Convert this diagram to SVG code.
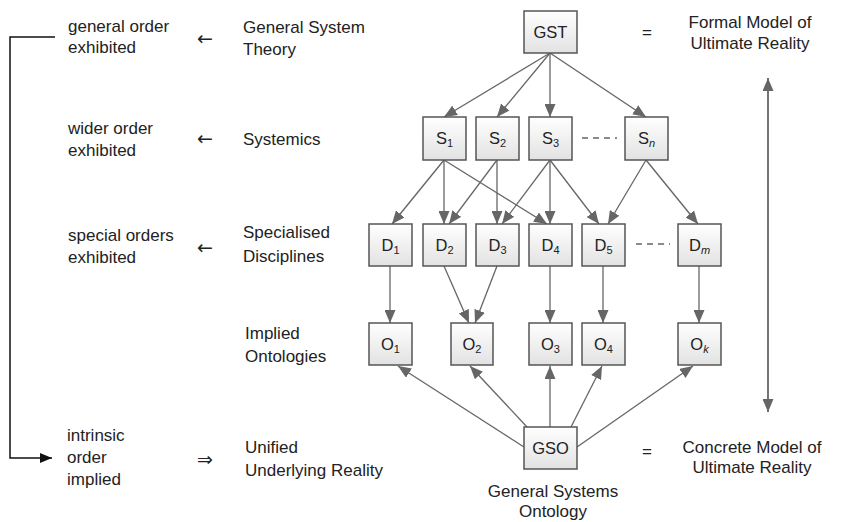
<svg xmlns="http://www.w3.org/2000/svg" width="843" height="522" viewBox="0 0 843 522">
<defs>
<linearGradient id="boxg" x1="0" y1="0" x2="0" y2="1">
<stop offset="0" stop-color="#ffffff"/>
<stop offset="1" stop-color="#e2e2e2"/>
</linearGradient>
<marker id="ah" markerUnits="userSpaceOnUse" markerWidth="13" markerHeight="11" refX="13" refY="5.5" orient="auto">
<path d="M0,0 L13,5.5 L0,11 z" fill="#666"/>
</marker>
<marker id="ahb" markerUnits="userSpaceOnUse" markerWidth="12" markerHeight="10" refX="12" refY="5" orient="auto">
<path d="M0,0 L12,5 L0,10 z" fill="#111"/>
</marker>
<marker id="ahs" markerUnits="userSpaceOnUse" markerWidth="13" markerHeight="11" refX="0" refY="5.5" orient="auto">
<path d="M13,0 L0,5.5 L13,11 z" fill="#666"/>
</marker>
</defs>
<style>
.box{fill:url(#boxg);stroke:#555;stroke-width:1.5}
.lbl{font-family:"Liberation Sans",Arial,sans-serif;font-size:16.5px;fill:#222;text-anchor:middle}
.sub{font-size:11px}
.it{font-style:italic}
.txt{font-family:"Liberation Sans",Arial,sans-serif;font-size:17px;fill:#222}
.sym{font-family:"DejaVu Sans",sans-serif;font-size:19px;fill:#222}
.ctr{text-anchor:middle}
.e{stroke:#666;stroke-width:1.3;fill:none;marker-end:url(#ah)}
.dash{stroke:#666;stroke-width:1.3;stroke-dasharray:6,5;fill:none}
</style>

<g id="connectors">
<line class="e" x1="550" y1="53" x2="444" y2="117"/>
<line class="e" x1="550" y1="53" x2="497" y2="117"/>
<line class="e" x1="550" y1="53" x2="550" y2="117"/>
<line class="e" x1="550" y1="53" x2="646" y2="117"/>
<line class="e" x1="444" y1="160" x2="392" y2="224"/>
<line class="e" x1="444" y1="160" x2="444" y2="224"/>
<line class="e" x1="444" y1="160" x2="547" y2="224"/>
<line class="e" x1="497" y1="160" x2="449" y2="224"/>
<line class="e" x1="497" y1="160" x2="497" y2="224"/>
<line class="e" x1="550" y1="160" x2="502" y2="224"/>
<line class="e" x1="550" y1="160" x2="550" y2="224"/>
<line class="e" x1="550" y1="160" x2="599" y2="224"/>
<line class="e" x1="646" y1="160" x2="608" y2="224"/>
<line class="e" x1="646" y1="160" x2="698" y2="224"/>
<line class="e" x1="390" y1="266" x2="390" y2="323"/>
<line class="e" x1="444" y1="266" x2="469" y2="323"/>
<line class="e" x1="497" y1="266" x2="475" y2="323"/>
<line class="e" x1="550" y1="266" x2="550" y2="323"/>
<line class="e" x1="603" y1="266" x2="603" y2="323"/>
<line class="e" x1="699" y1="266" x2="699" y2="323"/>
<line class="e" x1="524" y1="447" x2="398" y2="366"/>
<line class="e" x1="527" y1="427" x2="470" y2="366"/>
<line class="e" x1="550" y1="427" x2="550" y2="366"/>
<line class="e" x1="571" y1="427" x2="602" y2="366"/>
<line class="e" x1="577" y1="447" x2="693" y2="366"/>
<line class="dash" x1="582" y1="138" x2="617" y2="138"/>
<line class="dash" x1="636" y1="244" x2="670" y2="244"/>
<line stroke="#666" stroke-width="1.8" x1="768" y1="78" x2="768" y2="412" marker-start="url(#ahs)" marker-end="url(#ah)"/>
<path d="M55,37 H10 V458 H52" stroke="#111" stroke-width="1.5" fill="none" marker-end="url(#ahb)"/>
</g>

<g id="GST"><rect class="box" x="524" y="11" width="53" height="42"/><text class="lbl" x="550.5" y="38">GST</text></g>
<g id="S1"><rect class="box" x="423" y="117" width="43" height="43"/><text class="lbl" x="444.5" y="144">S<tspan class="sub" dy="3">1</tspan></text></g>
<g id="S2"><rect class="box" x="476" y="117" width="43" height="43"/><text class="lbl" x="497.5" y="144">S<tspan class="sub" dy="3">2</tspan></text></g>
<g id="S3"><rect class="box" x="529" y="117" width="43" height="43"/><text class="lbl" x="550.5" y="144">S<tspan class="sub" dy="3">3</tspan></text></g>
<g id="Sn"><rect class="box" x="625" y="117" width="43" height="43"/><text class="lbl" x="646.5" y="144">S<tspan class="sub it" dy="3">n</tspan></text></g>

<g id="D1"><rect class="box" x="369" y="224" width="43" height="42"/><text class="lbl" x="390.5" y="251">D<tspan class="sub" dy="3">1</tspan></text></g>
<g id="D2"><rect class="box" x="423" y="224" width="43" height="42"/><text class="lbl" x="444.5" y="251">D<tspan class="sub" dy="3">2</tspan></text></g>
<g id="D3"><rect class="box" x="476" y="224" width="43" height="42"/><text class="lbl" x="497.5" y="251">D<tspan class="sub" dy="3">3</tspan></text></g>
<g id="D4"><rect class="box" x="529" y="224" width="43" height="42"/><text class="lbl" x="550.5" y="251">D<tspan class="sub" dy="3">4</tspan></text></g>
<g id="D5"><rect class="box" x="582" y="224" width="43" height="42"/><text class="lbl" x="603.5" y="251">D<tspan class="sub" dy="3">5</tspan></text></g>
<g id="Dm"><rect class="box" x="678" y="224" width="43" height="42"/><text class="lbl" x="699.5" y="251">D<tspan class="sub it" dy="3">m</tspan></text></g>

<g id="O1"><rect class="box" x="369" y="323" width="43" height="42"/><text class="lbl" x="390.5" y="350">O<tspan class="sub" dy="3">1</tspan></text></g>
<g id="O2"><rect class="box" x="451" y="323" width="42" height="42"/><text class="lbl" x="472" y="350">O<tspan class="sub" dy="3">2</tspan></text></g>
<g id="O3"><rect class="box" x="529" y="323" width="43" height="42"/><text class="lbl" x="550.5" y="350">O<tspan class="sub" dy="3">3</tspan></text></g>
<g id="O4"><rect class="box" x="582" y="323" width="43" height="42"/><text class="lbl" x="603.5" y="350">O<tspan class="sub" dy="3">4</tspan></text></g>
<g id="Ok"><rect class="box" x="678" y="323" width="43" height="42"/><text class="lbl" x="699.5" y="350">O<tspan class="sub it" dy="3">k</tspan></text></g>

<g id="GSO"><rect class="box" x="524" y="427" width="53" height="42"/><text class="lbl" x="550.5" y="454">GSO</text></g>

<g id="labels">
<text class="txt" x="68" y="32">general order</text>
<text class="txt" x="68" y="53">exhibited</text>
<text class="sym" x="197" y="45">←</text>
<text class="txt" x="243" y="33">General System</text>
<text class="txt" x="243" y="55">Theory</text>

<text class="txt" x="68" y="134">wider order</text>
<text class="txt" x="68" y="156">exhibited</text>
<text class="sym" x="197" y="145">←</text>
<text class="txt" x="243" y="145">Systemics</text>

<text class="txt" x="68" y="241">special orders</text>
<text class="txt" x="68" y="263">exhibited</text>
<text class="sym" x="197" y="254">←</text>
<text class="txt" x="243" y="238">Specialised</text>
<text class="txt" x="243" y="262">Disciplines</text>

<text class="txt" x="245" y="339">Implied</text>
<text class="txt" x="245" y="362">Ontologies</text>

<text class="txt" x="67" y="441">intrinsic</text>
<text class="txt" x="67" y="463">order</text>
<text class="txt" x="67" y="485">implied</text>
<text class="sym" x="197" y="466">⇒</text>
<text class="txt" x="245" y="453">Unified</text>
<text class="txt" x="245" y="476">Underlying Reality</text>

<text class="txt ctr" x="553" y="497">General Systems</text>
<text class="txt ctr" x="553" y="517">Ontology</text>

<text class="txt ctr" x="647" y="38">=</text>
<text class="txt ctr" x="750" y="28">Formal Model of</text>
<text class="txt ctr" x="750" y="49">Ultimate Reality</text>

<text class="txt ctr" x="647" y="457">=</text>
<text class="txt ctr" x="752" y="453">Concrete Model of</text>
<text class="txt ctr" x="752" y="473">Ultimate Reality</text>
</g>
</svg>
